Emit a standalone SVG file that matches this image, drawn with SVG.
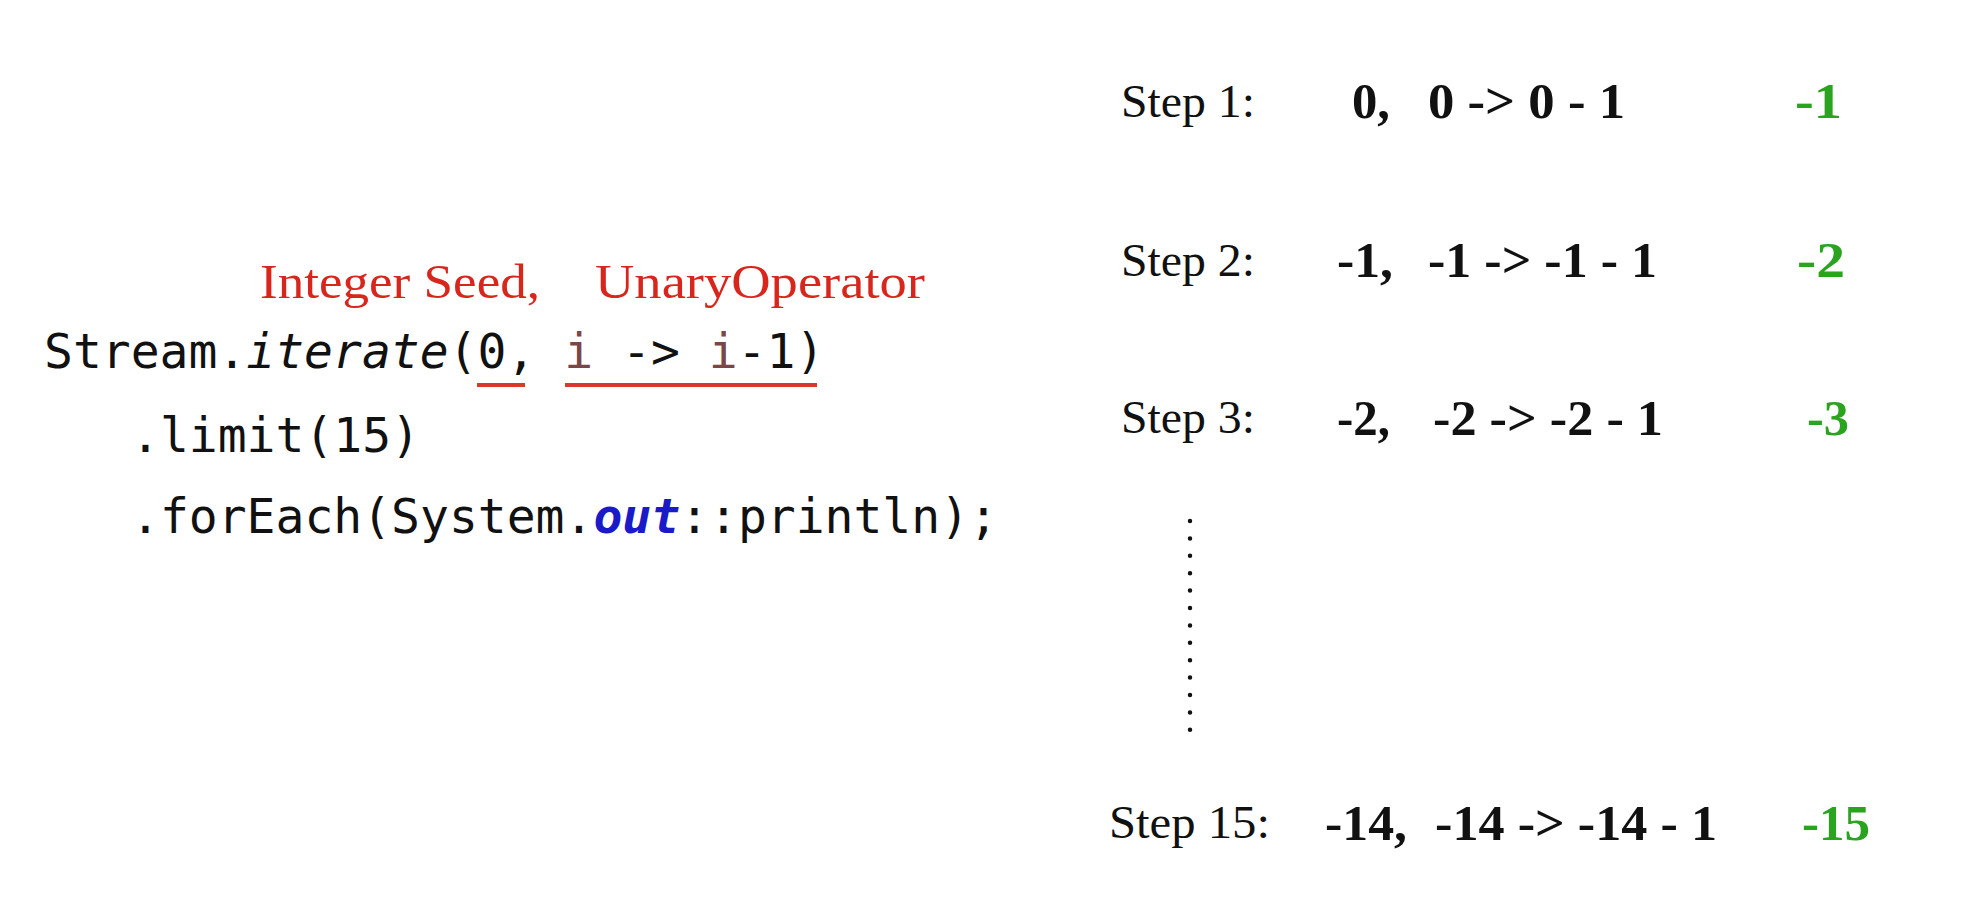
<svg xmlns="http://www.w3.org/2000/svg" width="1968" height="921" viewBox="0 0 1968 921">
<style>
.code{font-family:"DejaVu Sans Mono","Liberation Mono",monospace;font-size:48px;fill:#111}
.var{fill:#7a4646}
.kw{fill:#1a1ac8;font-weight:bold;font-style:italic}
.lbl{font-family:"Liberation Serif",serif;font-size:48px;fill:#d9261c}
.step{font-family:"Liberation Serif",serif;font-size:47px;fill:#111}
.expr{font-family:"Liberation Serif",serif;font-size:50px;font-weight:bold;fill:#111}
.res{font-family:"Liberation Serif",serif;font-size:50px;font-weight:bold;fill:#2aa31e}
.ul{stroke:#d9382c;stroke-width:4;fill:none}
</style>
<rect width="1968" height="921" fill="#ffffff"/>
<g id="code">
<text class="lbl" x="260" y="298" textLength="280" lengthAdjust="spacingAndGlyphs">Integer Seed,</text>
<text class="lbl" x="595" y="298" textLength="330" lengthAdjust="spacingAndGlyphs">UnaryOperator</text>
<text class="code" x="44" y="368" xml:space="preserve">Stream.<tspan font-style="italic">iterate</tspan>(0, <tspan class="var">i</tspan> -&gt; <tspan class="var">i</tspan>-1)</text>
<text class="code" x="131" y="452">.limit(15)</text>
<text class="code" x="131" y="533">.forEach(System.<tspan class="kw">out</tspan>::println);</text>
<line class="ul" x1="477" y1="385" x2="525" y2="385"/>
<line class="ul" x1="565" y1="385" x2="817" y2="385"/>
</g>
<g id="step1">
<text class="step" x="1121" y="117" textLength="134" lengthAdjust="spacingAndGlyphs">Step 1:</text>
<text class="expr" x="1352" y="118" textLength="38" lengthAdjust="spacingAndGlyphs">0,</text>
<text class="expr" x="1428" y="118" textLength="197" lengthAdjust="spacingAndGlyphs">0 -&gt; 0 - 1</text>
<text class="res" x="1795" y="118" textLength="47" lengthAdjust="spacingAndGlyphs">-1</text>
</g>
<g id="step2">
<text class="step" x="1121" y="276" textLength="134" lengthAdjust="spacingAndGlyphs">Step 2:</text>
<text class="expr" x="1337" y="277" textLength="56" lengthAdjust="spacingAndGlyphs">-1,</text>
<text class="expr" x="1428" y="277" textLength="229" lengthAdjust="spacingAndGlyphs">-1 -&gt; -1 - 1</text>
<text class="res" x="1797" y="277" textLength="48" lengthAdjust="spacingAndGlyphs">-2</text>
</g>
<g id="step3">
<text class="step" x="1121" y="433" textLength="134" lengthAdjust="spacingAndGlyphs">Step 3:</text>
<text class="expr" x="1337" y="435" textLength="53" lengthAdjust="spacingAndGlyphs">-2,</text>
<text class="expr" x="1433" y="435" textLength="230" lengthAdjust="spacingAndGlyphs">-2 -&gt; -2 - 1</text>
<text class="res" x="1807" y="435" textLength="42" lengthAdjust="spacingAndGlyphs">-3</text>
</g>
<g id="connectors">
<line x1="1190" y1="521" x2="1190" y2="731" stroke="#111" stroke-width="4.5" stroke-linecap="round" stroke-dasharray="0 17.4"/>
</g>
<g id="step15">
<text class="step" x="1109" y="838" textLength="161" lengthAdjust="spacingAndGlyphs">Step 15:</text>
<text class="expr" x="1325" y="840" textLength="82" lengthAdjust="spacingAndGlyphs">-14,</text>
<text class="expr" x="1435" y="840" textLength="282" lengthAdjust="spacingAndGlyphs">-14 -&gt; -14 - 1</text>
<text class="res" x="1802" y="840" textLength="68" lengthAdjust="spacingAndGlyphs">-15</text>
</g>
</svg>
